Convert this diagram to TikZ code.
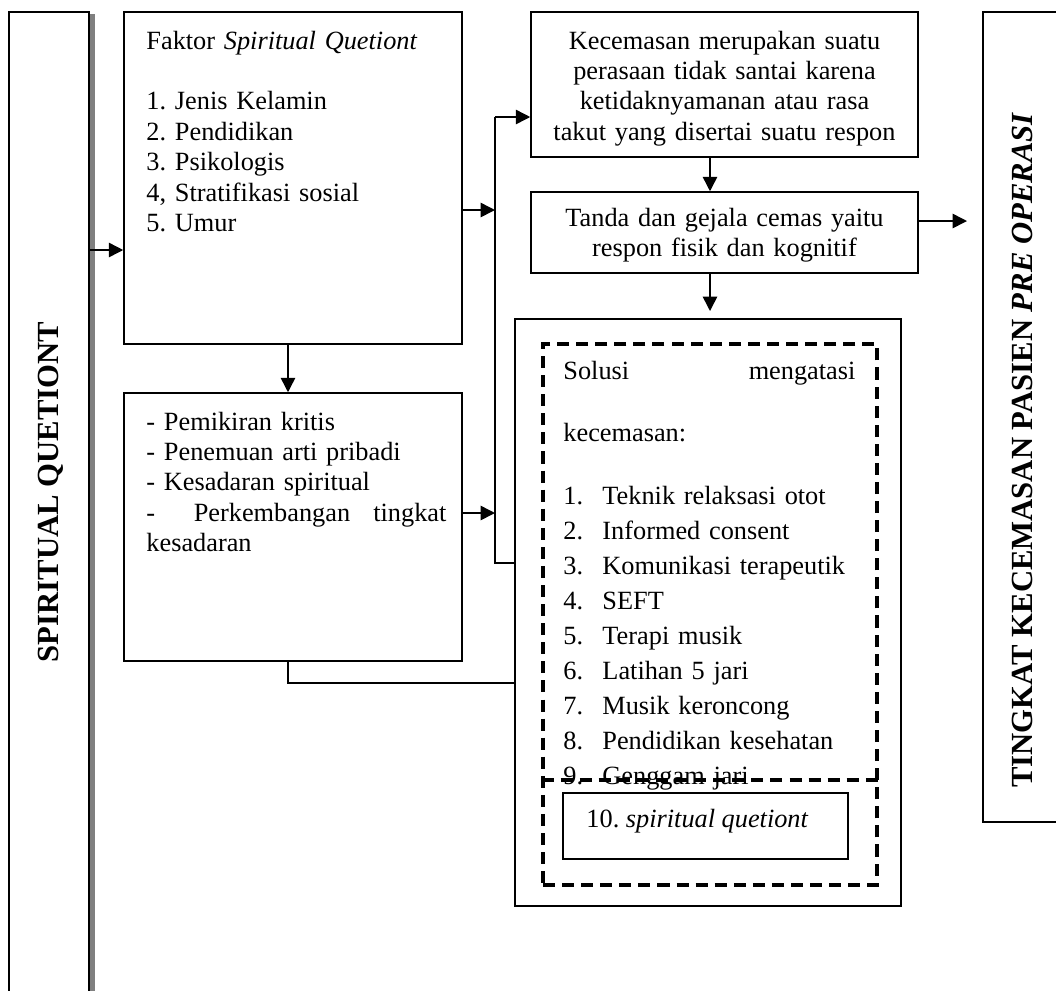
\documentclass[tikz,border=0pt]{standalone}
\usepackage{fontspec}
\setmainfont{Liberation Serif}
\usetikzlibrary{arrows.meta,positioning}
\newdimen\satuan
\satuan=0.456pt
\frenchspacing

\begin{document}
\begin{tikzpicture}[x=0.456pt,y=-0.456pt]
	\tikzstyle{kotak}=[draw,line width=0.7pt,inner sep=0pt]
	\tikzstyle{putus}=[draw,line width=1.4pt,dash pattern=on 5.5pt off 3.2pt]
	\tikzstyle{garis}=[line width=0.7pt]
	\tikzstyle{panah}=[garis,-{Triangle[length=6.6pt,width=6.6pt]}]
	\tikzstyle{teks}=[inner sep=0pt,font=\fontsize{12}{13.9}\selectfont,align=left]
	\tikzstyle{judul}=[inner sep=0pt,font=\fontsize{14}{16}\selectfont\bfseries,rotate=90,anchor=base]
	\useasboundingbox (0,0) rectangle (1056,990);
	\clip (0,0) rectangle (1056,990);
	% kotak kiri dan kanan
	\fill[gray] (90,14) rectangle (95,1000);
	\node[kotak,fill=white,minimum width=80\satuan,minimum height=988\satuan] (sq) at (49,506) {};
	\node[judul] (tsq) at (59,492) {SPIRITUAL QUETIONT};
	\node[kotak,minimum width=90\satuan,minimum height=810\satuan] (tingkat) at (1028,417) {};
	\node[judul] (ttingkat) at (1032,450) {TINGKAT KECEMASAN PASIEN \textit{PRE OPERASI}};
	% kotak tengah
	\node[kotak,minimum width=338\satuan,minimum height=332\satuan] (faktor) at (293,178) {};
	\node[teks,anchor=base west,text width=300\satuan] (tfaktor) at (146,49) {Faktor \textit{Spiritual Quetiont}\\[13.9pt]1. Jenis Kelamin\\2. Pendidikan\\3. Psikologis\\4, Stratifikasi sosial\\5. Umur};
	\node[kotak,minimum width=338\satuan,minimum height=268\satuan] (aspek) at (293,527) {};
	\node[teks,anchor=base west,text width=300\satuan] (taspek) at (146,430) {- Pemikiran kritis\\- Penemuan arti pribadi\\- Kesadaran spiritual\\\makebox[300\satuan]{-\hfill Perkembangan\hspace{0pt plus 0.6fill}tingkat}\\kesadaran};
	\node[kotak,minimum width=387\satuan,minimum height=145\satuan] (cemas) at (724.5,84.5) {};
	\node[teks,align=center,anchor=base,text width=387\satuan] (tcemas) at (724.5,49) {Kecemasan merupakan suatu\\perasaan tidak santai karena\\ketidaknyamanan atau rasa\\takut yang disertai suatu respon};
	\node[kotak,minimum width=387\satuan,minimum height=81\satuan] (tanda) at (724.5,232.5) {};
	\node[teks,align=center,anchor=base,text width=387\satuan] (ttanda) at (724.5,226) {Tanda dan gejala cemas yaitu\\respon fisik dan kognitif};
	% kotak solusi
	\node[kotak,minimum width=386\satuan,minimum height=587\satuan] (solusi) at (708,612.5) {};
	\node[putus,inner sep=0pt,minimum width=334\satuan,minimum height=541\satuan] (daftar) at (710,614.5) {};
	\node[teks,anchor=base west,text width=292\satuan,font=\fontsize{12}{16}\selectfont] (tdaftar) at (563,379) {Solusi\hfill mengatasi\\[12.7pt]kecemasan:\\[12.3pt]\makebox[39\satuan][l]{1.}Teknik relaksasi otot\\\makebox[39\satuan][l]{2.}Informed consent\\\makebox[39\satuan][l]{3.}Komunikasi terapeutik\\\makebox[39\satuan][l]{4.}SEFT\\\makebox[39\satuan][l]{5.}Terapi musik\\\makebox[39\satuan][l]{6.}Latihan 5 jari\\\makebox[39\satuan][l]{7.}Musik keroncong\\\makebox[39\satuan][l]{8.}Pendidikan kesehatan\\\makebox[39\satuan][l]{9.}Genggam jari};
	\draw[putus] (daftar.west |- 0,780) -- (daftar.east |- 0,780);
	\node[kotak,minimum width=285\satuan,minimum height=66\satuan] (kotak10) at (705.5,826) {};
	\node[teks,anchor=base west] (t10) at (586,827) {10. \textit{spiritual quetiont}};
	% panah
	\coordinate (atas) at (495,117);
	\coordinate (bawah) at (495,563);
	\coordinate (ujung) at (967,221);
	\coordinate (ujungb) at (710,311);
	\draw[panah] (sq.east |- 0,250) -- (faktor.west |- 0,250);
	\draw[panah] (faktor.south -| 288,0) -- (aspek.north -| 288,0);
	\draw[panah] (faktor.east |- 0,210) -- (atas |- 0,210);
	\draw[panah] (aspek.east |- 0,513) -- (atas |- 0,513);
	\draw[garis] (atas) -- (bawah) -- (solusi.west |- bawah);
	\draw[panah] (atas) -- (cemas.west |- atas);
	\draw[panah] (cemas.south -| ujungb) -- (tanda.north -| ujungb);
	\draw[panah] (tanda.south -| ujungb) -- (ujungb);
	\draw[panah] (tanda.east |- ujung) -- (ujung);
	\draw[garis] (aspek.south -| 288,0) |- (solusi.west |- 0,683);
\end{tikzpicture}
\end{document}
